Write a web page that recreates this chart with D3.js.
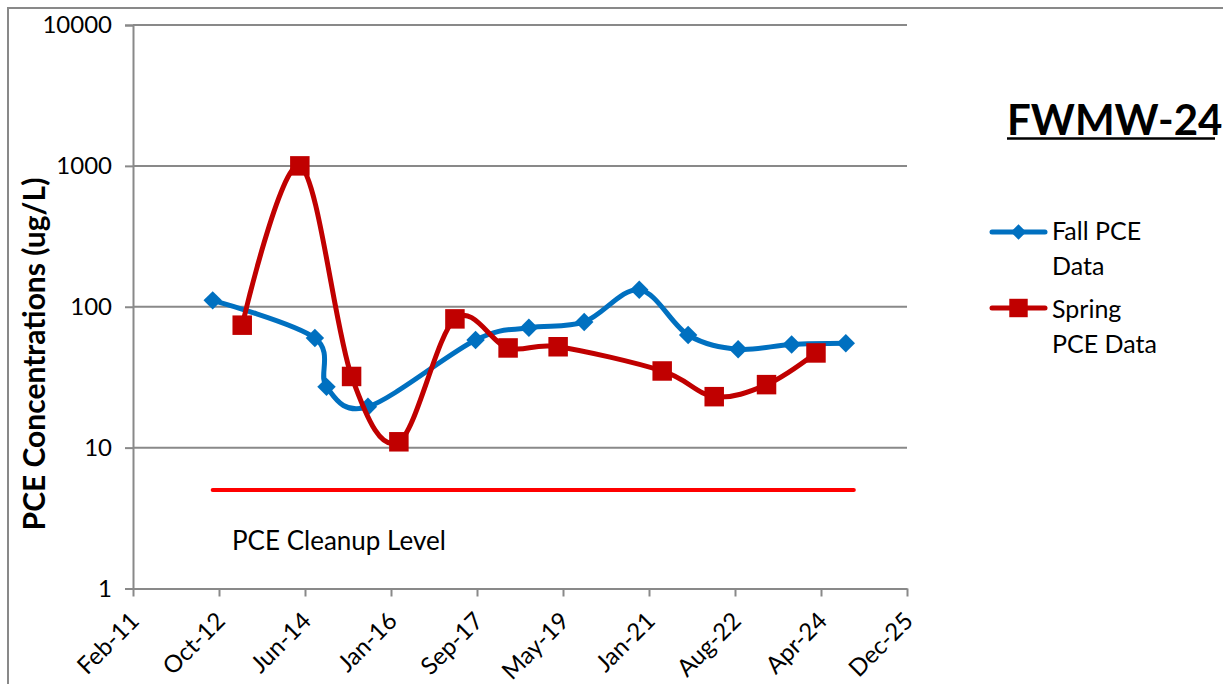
<!DOCTYPE html>
<html>
<head>
<meta charset="utf-8">
<script src="https://cdn.jsdelivr.net/npm/d3@7"></script>
<style>
  html, body { margin: 0; padding: 0; background: #fff; }
  svg { display: block; }
  text { font-family: Lato, "Open Sans", sans-serif; fill: #000; }
</style>
</head>
<body>
<svg id="chart" width="1223" height="684"></svg>
<script>
// Fall sampling events (PCE, ug/L)
const fallDates  = ["2012-09-02","2014-08-16","2014-11-05","2015-08-21","2017-09-10","2018-09-17",
                    "2019-10-08","2020-10-26","2021-10-02","2022-09-16","2023-09-24","2024-10-06"];
const fallValues = [111, 60, 27, 19.5, 58, 71, 78, 132, 63, 50, 54, 55];

// Spring sampling events (PCE, ug/L)
const springDates  = ["2013-03-27","2014-05-03","2015-04-29","2016-03-24","2017-04-19","2018-04-25",
                      "2019-04-09","2021-04-04","2022-04-02","2023-04-02","2024-03-12"];
const springValues = [74, 1000, 32, 11, 82, 51, 52, 35, 23, 28, 47];

// Cleanup level reference line
const cleanupDates  = ["2012-09-02","2024-12-01"];
const cleanupValues = [5, 5];

// Axis ticks
const xStart = "2011-02-24";
const xStepDays = 600;
const xTickLabels = ["Feb-11","Oct-12","Jun-14","Jan-16","Sep-17","May-19","Jan-21","Aug-22","Apr-24","Dec-25"];
const yTicks = [1, 10, 100, 1000, 10000];

const parse = d3.utcParse("%Y-%m-%d");
const DAY = 864e5;
const t0 = parse(xStart);
const xTickDates = xTickLabels.map((_, i) => new Date(t0.getTime() + i * xStepDays * DAY));

const svg = d3.select("#chart");
const BLUE = "#0070C0", RED = "#C00000", GRID = "#898989";

// Chart frame
svg.append("rect").attr("x", 8).attr("y", 8).attr("width", 1230).attr("height", 700)
  .attr("fill", "#fff").attr("stroke", GRID).attr("stroke-width", 2);

const x = d3.scaleUtc().domain([t0, xTickDates[xTickDates.length - 1]]).range([133, 907]);
const y = d3.scaleLog().domain([1, 10000]).range([588.5, 25]);

// Horizontal gridlines
svg.append("g").selectAll("line").data(yTicks.slice(1)).join("line")
  .attr("x1", 133).attr("x2", 907)
  .attr("y1", d => y(d)).attr("y2", d => y(d))
  .attr("stroke", GRID).attr("stroke-width", 2);

// Y axis
const yAxis = svg.append("g").attr("transform", "translate(133,0)")
  .call(d3.axisLeft(y).tickValues(yTicks).tickFormat(d3.format("d")).tickSize(8).tickPadding(13));
yAxis.select(".domain").attr("stroke", GRID).attr("stroke-width", 2);
yAxis.selectAll(".tick line").attr("stroke", GRID).attr("stroke-width", 2);
yAxis.selectAll(".tick text").attr("font-family", "Lato").attr("font-size", 24).attr("fill", "#000");

// X axis
const xAxis = svg.append("g").attr("transform", `translate(0,${y(1)})`)
  .call(d3.axisBottom(x).tickValues(xTickDates).tickFormat((d, i) => xTickLabels[i]).tickSize(8).tickSizeOuter(0));
xAxis.select(".domain").attr("stroke", GRID).attr("stroke-width", 2);
xAxis.selectAll(".tick line").attr("stroke", GRID).attr("stroke-width", 2);
xAxis.selectAll(".tick text")
  .attr("font-family", "Lato").attr("font-size", 24).attr("fill", "#000")
  .attr("text-anchor", "end").attr("y", 0).attr("dy", 0)
  .attr("transform", "translate(7,34) rotate(-45)");

// Axis title
svg.append("text")
  .attr("transform", "translate(45,354) rotate(-90)")
  .attr("text-anchor", "middle").attr("font-weight", "bold").attr("font-size", 30)
  .text("PCE Concentrations (ug/L)");

// Cleanup level line and label
const line = d3.line().x(d => x(d[0])).y(d => y(d[1]));
svg.append("path")
  .datum(cleanupDates.map((d, i) => [parse(d), cleanupValues[i]]))
  .attr("d", line).attr("fill", "none").attr("stroke", "#FF0000")
  .attr("stroke-width", 4).attr("stroke-linecap", "round");
svg.append("text").attr("x", 232).attr("y", 550).attr("font-size", 26).text("PCE Cleanup  Level");

// Series
const smooth = d3.line().x(d => x(d[0])).y(d => y(d[1])).curve(d3.curveCardinal.tension(0));
const fall = fallDates.map((d, i) => [parse(d), fallValues[i]]);
const spring = springDates.map((d, i) => [parse(d), springValues[i]]);

const diamond = d3.symbol(d3.symbolSquare, 170)();
const square = d3.symbol(d3.symbolSquare, 380)();

svg.append("path").datum(fall).attr("d", smooth).attr("fill", "none")
  .attr("stroke", BLUE).attr("stroke-width", 5).attr("stroke-linejoin", "round").attr("stroke-linecap", "round");
svg.append("g").selectAll("path").data(fall).join("path")
  .attr("d", diamond).attr("fill", BLUE)
  .attr("transform", d => `translate(${x(d[0])},${y(d[1])}) rotate(45)`);

svg.append("path").datum(spring).attr("d", smooth).attr("fill", "none")
  .attr("stroke", RED).attr("stroke-width", 5).attr("stroke-linejoin", "round").attr("stroke-linecap", "round");
svg.append("g").selectAll("path").data(spring).join("path")
  .attr("d", square).attr("fill", RED)
  .attr("transform", d => `translate(${x(d[0])},${y(d[1])})`);

// Title
svg.append("text").attr("x", 1007).attr("y", 135).attr("font-weight", "bold").attr("font-size", 42)
  .text("FWMW-24");
svg.append("line").attr("x1", 1007).attr("x2", 1215).attr("y1", 138.5).attr("y2", 138.5)
  .attr("stroke", "#000").attr("stroke-width", 2.5);

// Legend
const legend = svg.append("g");
const legendItems = [
  { color: BLUE, sym: "diamond", y: 232, lines: ["Fall PCE", "Data"], ty: 240 },
  { color: RED, sym: "square", y: 308, lines: ["Spring", "PCE Data"], ty: 318 }
];
legendItems.forEach(it => {
  legend.append("line").attr("x1", 992).attr("x2", 1045).attr("y1", it.y).attr("y2", it.y)
    .attr("stroke", it.color).attr("stroke-width", 5).attr("stroke-linecap", "round");
  legend.append("path")
    .attr("d", it.sym === "diamond" ? d3.symbol(d3.symbolSquare, 120)() : d3.symbol(d3.symbolSquare, 340)())
    .attr("fill", it.color)
    .attr("transform", `translate(1018.5,${it.y})` + (it.sym === "diamond" ? " rotate(45)" : ""));
  it.lines.forEach((s, j) => {
    legend.append("text").attr("x", 1052).attr("y", it.ty + j * 34.5).attr("font-size", 25).text(s);
  });
});
</script>
</body>
</html>
